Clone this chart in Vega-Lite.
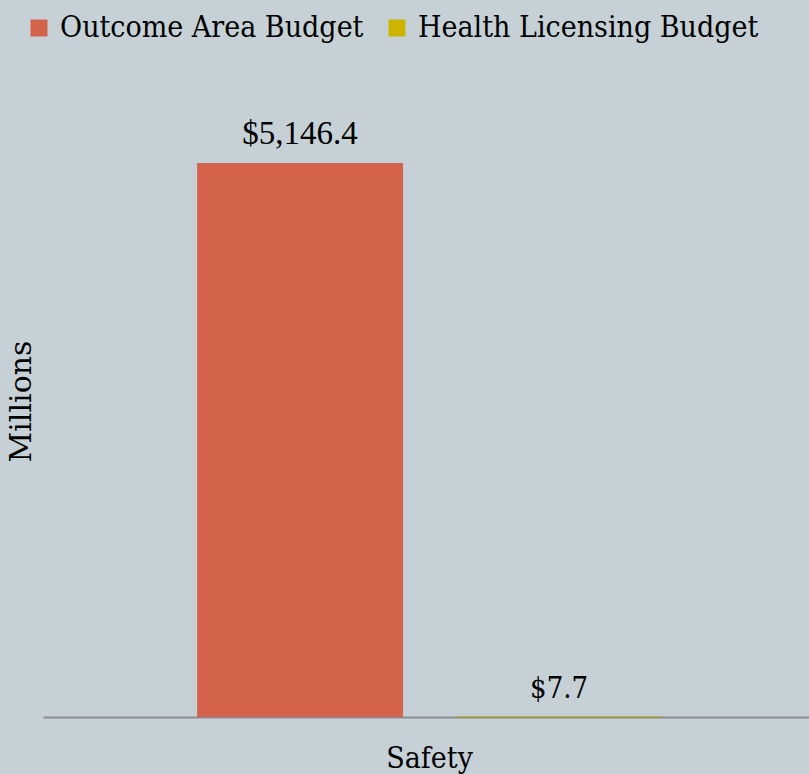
{
  "$schema": "https://vega.github.io/schema/vega-lite/v6.json",
  "width": 766,
  "height": 646,
  "autosize": {"type": "none"},
  "padding": {"left": 43, "top": 71, "right": 0, "bottom": 57},
  "background": "#C5D1D6",
  "config": {"view": {"stroke": null}},
  "data": {
    "values": [
      {"category": "Safety", "series": "Outcome Area Budget", "value": 5146.4},
      {"category": "Safety", "series": "Health Licensing Budget", "value": 7.7}
    ]
  },
  "encoding": {
    "x": {
      "field": "category",
      "type": "nominal",
      "scale": {"paddingInner": 0, "paddingOuter": 0.3237, "align": 0.512},
      "axis": {
        "title": null,
        "labelAngle": 0,
        "labelFont": "DejaVu Serif Condensed, Liberation Serif, serif",
        "labelFontSize": 30,
        "labelColor": "#000000",
        "labelBaseline": "alphabetic",
        "labelPadding": 50,
        "ticks": false,
        "tickSize": 0,
        "domainColor": "#8C8C8C",
        "domainWidth": 2
      }
    },
    "xOffset": {
      "field": "series",
      "type": "nominal",
      "sort": ["Outcome Area Budget", "Health Licensing Budget"],
      "scale": {"paddingInner": 0.205, "paddingOuter": 0}
    },
    "y": {
      "field": "value",
      "type": "quantitative",
      "scale": {"domain": [0, 6000]},
      "axis": {
        "title": "Millions",
        "labels": false,
        "ticks": false,
        "domain": false,
        "grid": false,
        "titleFont": "DejaVu Serif, serif",
        "titleFontSize": 30,
        "titleFontWeight": "normal",
        "titleColor": "#000000",
        "titleAngle": -90,
        "titleAlign": "center",
        "titleBaseline": "middle",
        "titleX": -22,
        "titleY": 330
      }
    }
  },
  "layer": [
    {
      "mark": {"type": "bar"},
      "encoding": {
        "color": {
          "field": "series",
          "type": "nominal",
          "sort": ["Outcome Area Budget", "Health Licensing Budget"],
          "scale": {"domain": ["Outcome Area Budget", "Health Licensing Budget"], "range": ["#D3644B", "#CCB400"]},
          "legend": {
            "title": null,
            "orient": "none",
            "direction": "horizontal",
            "legendX": -19,
            "legendY": -58,
            "symbolType": "square",
            "symbolSize": 289,
            "symbolStrokeWidth": 0,
            "symbolOpacity": 1,
            "labelFont": "DejaVu Serif Condensed, Liberation Serif, serif",
            "labelFontSize": 30,
            "labelColor": "#000000",
            "labelOffset": 6,
            "labelLimit": 400,
            "columnPadding": 18,
            "padding": 0
          }
        }
      }
    },
    {
      "transform": [{"filter": "datum.series == 'Outcome Area Budget'"}],
      "mark": {"type": "text", "baseline": "alphabetic", "dy": -19, "font": "Liberation Serif, serif", "fontSize": 33, "color": "#000000"},
      "encoding": {"text": {"field": "value", "type": "quantitative", "format": "$,.1f"}}
    },
    {
      "transform": [{"filter": "datum.series == 'Health Licensing Budget'"}],
      "mark": {"type": "text", "baseline": "alphabetic", "dy": -18, "font": "DejaVu Serif Condensed, Liberation Serif, serif", "fontSize": 29, "color": "#000000"},
      "encoding": {"text": {"field": "value", "type": "quantitative", "format": "$,.1f"}}
    }
  ]
}
